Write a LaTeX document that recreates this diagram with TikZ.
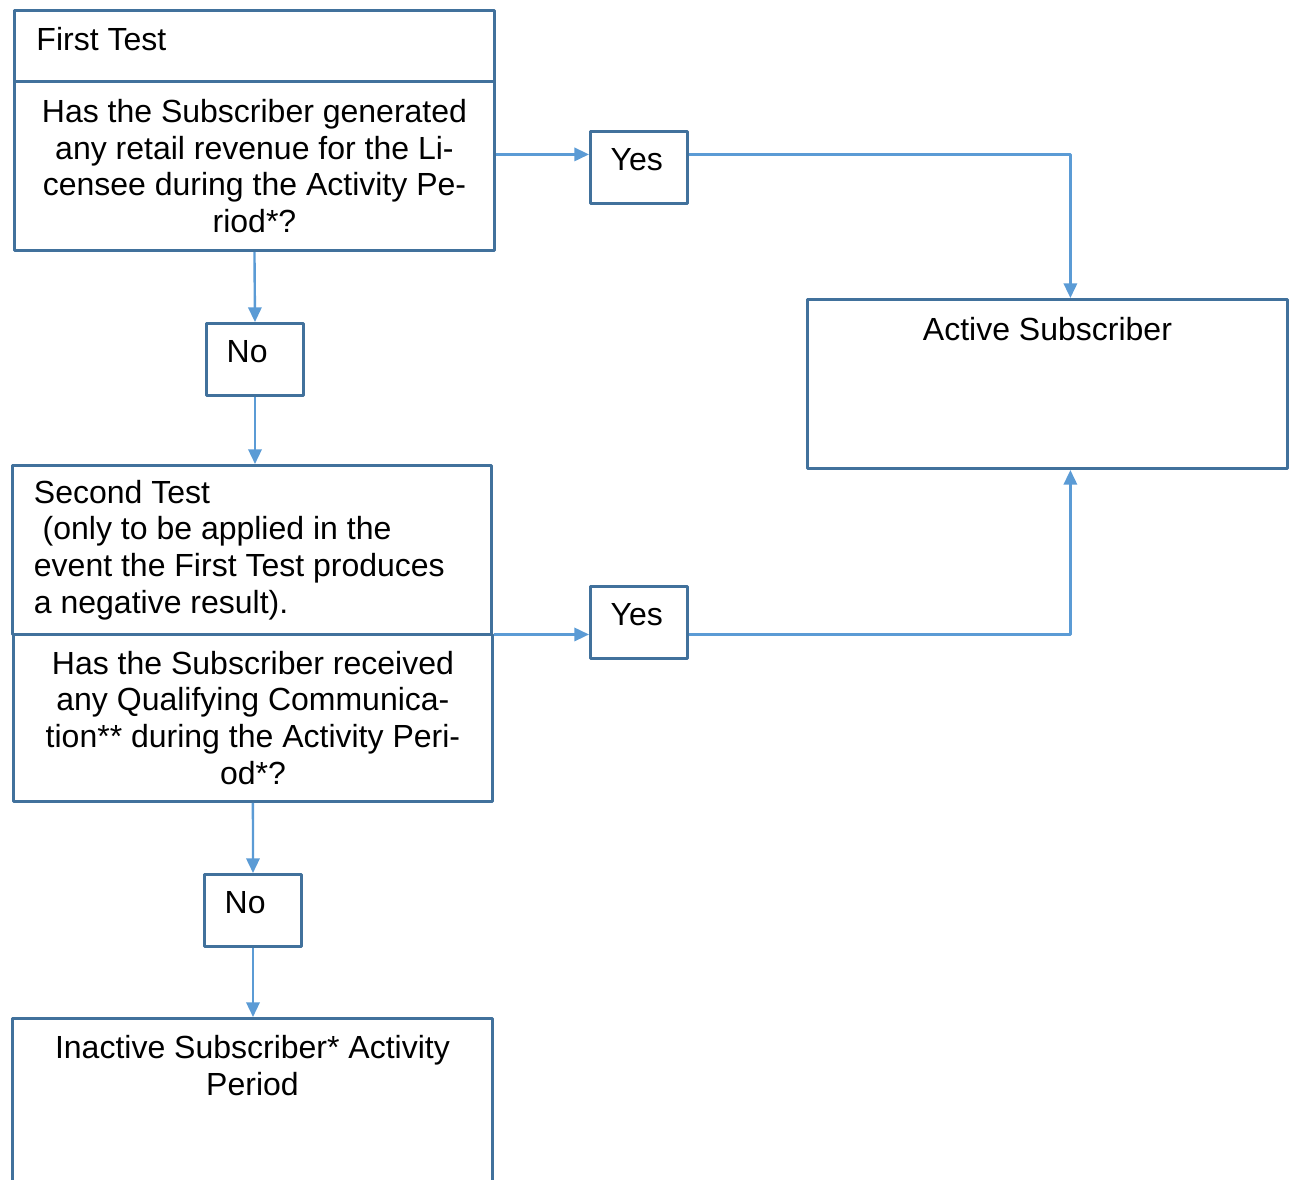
\documentclass[tikz,border=0pt]{standalone}
\usepackage{fontspec}
\setmainfont{Liberation Sans}
\usepackage{xcolor}
\usetikzlibrary{arrows.meta}
\definecolor{boxblue}{HTML}{41719C}
\definecolor{lineblue}{HTML}{5B9BD5}

\begin{document}
\begin{tikzpicture}[x=0.375pt, y=-0.375pt, font=\fontsize{12}{13.8}\selectfont, line join=round,
    box/.style={draw=boxblue, line width=1.1pt, inner sep=0pt, anchor=north west, align=center},
    tag/.style={box, minimum width=36.4pt, minimum height=27pt, inner xsep=7.6pt, text width=21.2pt,
        align=flush left, text height=9pt, text depth=6.5pt},
    flow/.style={draw=lineblue, line width=0.9pt, -{Triangle[length=5.5pt, width=5pt]}}]
    \useasboundingbox (0,0) rectangle (1291,1180);
    \clip (0,0) rectangle (1291,1180);

    % First test: heading and question
    \node[box, minimum width=180pt, minimum height=26.6pt, text width=163.5pt, align=flush left, text depth=5.5pt] (head1) at (13,9) {First Test};
    \node[box, minimum width=180pt, minimum height=63.4pt] (ask1) at (13,80)
        {Has the Subscriber generated\\any retail revenue for the Li-\\censee during the Activity Pe-\\riod*?};

    % Second test: heading and question
    \node[box, minimum width=179.6pt, minimum height=63.4pt, text width=163.5pt, align=flush left] (test2) at (11,464)
        {Second Test\\\hspace*{3.3pt}(only to be applied in the\\event the First Test produces\\a negative result).};
    \node[box, minimum width=179.6pt, minimum height=62.6pt] (ask2) at (12,633)
        {Has the Subscriber received\\any Qualifying Communica-\\tion** during the Activity Peri-\\od*?};

    % Answers
    \node[tag] (yes1) at (589,130) {Yes};
    \node[tag] (no1)  at (205,322) {No};
    \node[tag] (yes2) at (589,585) {Yes};
    \node[tag] (no2)  at (203,873) {No};

    % Outcomes, text at the top of the box
    \node[box, minimum width=180pt, minimum height=63.4pt,
        label={[anchor=north, inner sep=0pt, yshift=-7pt]north:Active Subscriber}] (active) at (806,298) {};
    \node[box, minimum width=180pt, minimum height=80pt,
        label={[anchor=north, inner sep=0pt, yshift=-6.7pt, align=center]north:Inactive Subscriber* Activity\\Period}] (inactive) at (11,1017) {};

    % Ports where the side lines meet
    \coordinate (in1)  at ([yshift=4.9pt]yes1.west);
    \coordinate (out1) at ([yshift=4.9pt]yes1.east);
    \coordinate (in2)  at ([yshift=-4.5pt]yes2.west);
    \coordinate (out2) at ([yshift=-4.5pt]yes2.east);
    \coordinate (top)  at ([xshift=8.6pt]active.north);
    \coordinate (bot)  at ([xshift=8.6pt]active.south);

    % Yes branches
    \draw[flow] (ask1.east |- in1) -- (in1);
    \draw[flow] (out1) -| (top);
    \draw[flow] (ask2.north east |- in2) -- (in2);
    \draw[flow] (out2) -| (bot);

    % No branches
    \draw[flow] (ask1.south) -- (no1.north);
    \draw[flow] (no1.south) -- (no1.south |- test2.north);
    \draw[flow] (ask2.south) -- (no2.north);
    \draw[flow] (no2.south) -- (no2.south |- inactive.north);
\end{tikzpicture}
\end{document}
